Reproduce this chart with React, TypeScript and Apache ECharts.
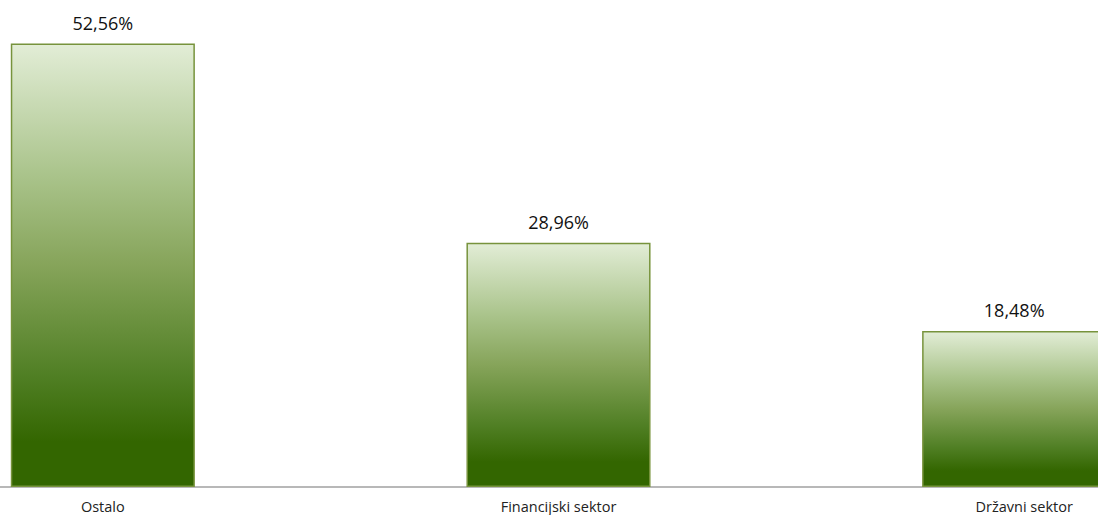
import React, { useEffect, useRef } from "react";
import * as echarts from "echarts";

const categories = ["Ostalo", "Financijski sektor", "Državni sektor"];
const values = [52.56, 28.96, 18.48];
const valueLabels = ["52,56%", "28,96%", "18,48%"];

export default function App() {
  const ref = useRef<HTMLDivElement>(null);
  useEffect(() => {
    if (!ref.current) return;
    const chart = echarts.init(ref.current, null, { renderer: "svg" });
    const gradient = new echarts.graphic.LinearGradient(0, 0, 0, 1, [
      { offset: 0, color: "#e2edd6" },
      { offset: 0.3, color: "#a9c38a" },
      { offset: 0.5, color: "#86a45a" },
      { offset: 0.75, color: "#507f24" },
      { offset: 0.9, color: "#336600" },
      { offset: 1, color: "#336600" },
    ]);
    chart.setOption({
      animation: false,
      backgroundColor: "#ffffff",
      grid: { left: 0, right: 0, top: 23, bottom: 28, containLabel: false },
      xAxis: {
        type: "category",
        data: categories.map((c, i) =>
          i === 2 ? { value: c, textStyle: { padding: [0, 0, 0, 20] } } : c
        ),
        axisLine: { show: true, lineStyle: { color: "#a0a0a0", width: 1.5 } },
        axisTick: { show: false },
        axisLabel: {
          color: "#222222",
          fontFamily: "Open Sans",
          fontSize: 14.5,
          lineHeight: 16,
          margin: 11,
        },
      },
      yAxis: {
        type: "value",
        min: 0,
        max: 55,
        show: false,
        splitLine: { show: false },
      },
      series: [
        {
          type: "bar",
          data: values,
          barWidth: "40.4%",
          itemStyle: {
            color: gradient,
            borderColor: "#77933c",
            borderWidth: 1.5,
          },
          label: {
            show: true,
            position: "top",
            distance: 12,
            color: "#111111",
            fontFamily: "Open Sans",
            fontSize: 18,
            formatter: (p: any) => valueLabels[p.dataIndex],
          },
        },
      ],
    });
    return () => chart.dispose();
  }, []);
  return (
    <div
      style={{
        position: "absolute",
        left: 0,
        top: 0,
        width: 1098,
        height: 515,
        overflow: "hidden",
      }}
    >
      <div
        ref={ref}
        style={{ position: "absolute", left: -124.8, top: 0, width: 1366.8, height: 515 }}
      />
    </div>
  );
}
